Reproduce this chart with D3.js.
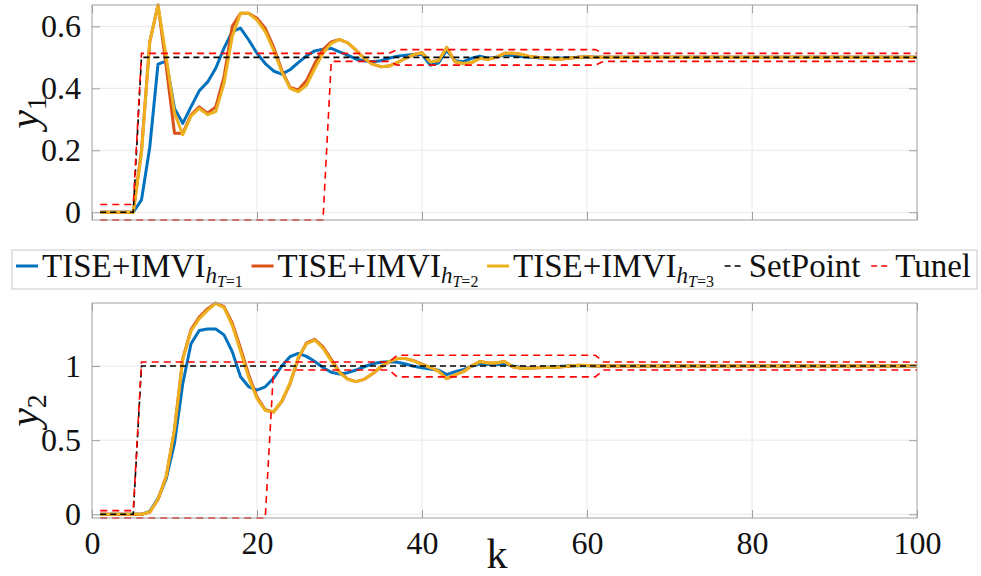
<!DOCTYPE html>
<html>
<head>
<meta charset="utf-8">
<script src="https://cdn.jsdelivr.net/npm/d3@7"></script>
<style>
  body { margin: 0; background: #fff; }
</style>
</head>
<body>
<div id="chart"></div>
<script>
// sample index
const k = d3.range(1, 101);

// y1 responses
const blue1 = [
  0, 0, 0, 0, 0, 0.04, 0.21, 0.478, 0.488, 0.335,
  0.287, 0.34, 0.392, 0.42, 0.465, 0.53, 0.583, 0.594, 0.556, 0.513,
  0.48, 0.456, 0.446, 0.46, 0.483, 0.505, 0.521, 0.526, 0.529, 0.518,
  0.507, 0.494, 0.489, 0.486, 0.489, 0.497, 0.504, 0.507, 0.509, 0.51,
  0.475, 0.482, 0.523, 0.489, 0.486, 0.497, 0.504, 0.497, 0.5, 0.508,
  0.506, 0.503, 0.5, 0.499, 0.497, 0.497, 0.498, 0.499, 0.5, 0.501,
  0.5, 0.5, 0.5, 0.5, 0.5, 0.5, 0.5, 0.5, 0.5, 0.5,
  0.5, 0.5, 0.5, 0.5, 0.5, 0.5, 0.5, 0.5, 0.5, 0.5,
  0.5, 0.5, 0.5, 0.5, 0.5, 0.5, 0.5, 0.5, 0.5, 0.5,
  0.5, 0.5, 0.5, 0.5, 0.5, 0.5, 0.5, 0.5, 0.5, 0.5
];
const orange1 = [
  0, 0, 0, 0, 0, 0.2, 0.55, 0.669, 0.47, 0.255,
  0.255, 0.314, 0.34, 0.32, 0.34, 0.437, 0.6, 0.642, 0.642, 0.626,
  0.594, 0.534, 0.459, 0.403, 0.395, 0.425, 0.48, 0.525, 0.55, 0.558,
  0.547, 0.523, 0.497, 0.478, 0.47, 0.472, 0.483, 0.497, 0.509, 0.515,
  0.486, 0.489, 0.532, 0.486, 0.48, 0.483, 0.497, 0.494, 0.5, 0.513,
  0.513, 0.51, 0.503, 0.5, 0.498, 0.495, 0.495, 0.498, 0.5, 0.502,
  0.5, 0.5, 0.5, 0.5, 0.5, 0.5, 0.5, 0.5, 0.5, 0.5,
  0.5, 0.5, 0.5, 0.5, 0.5, 0.5, 0.5, 0.5, 0.5, 0.5,
  0.5, 0.5, 0.5, 0.5, 0.5, 0.5, 0.5, 0.5, 0.5, 0.5,
  0.5, 0.5, 0.5, 0.5, 0.5, 0.5, 0.5, 0.5, 0.5, 0.5
];
const yellow1 = [
  0, 0, 0, 0, 0, 0.19, 0.55, 0.669, 0.5, 0.32,
  0.25, 0.31, 0.335, 0.315, 0.325, 0.416, 0.567, 0.642, 0.642, 0.62,
  0.583, 0.524, 0.454, 0.4, 0.389, 0.41, 0.464, 0.513, 0.545, 0.558,
  0.547, 0.523, 0.497, 0.478, 0.47, 0.472, 0.483, 0.497, 0.509, 0.515,
  0.486, 0.489, 0.532, 0.486, 0.48, 0.483, 0.497, 0.494, 0.5, 0.513,
  0.513, 0.51, 0.503, 0.5, 0.498, 0.495, 0.495, 0.498, 0.5, 0.502,
  0.5, 0.5, 0.5, 0.5, 0.5, 0.5, 0.5, 0.5, 0.5, 0.5,
  0.5, 0.5, 0.5, 0.5, 0.5, 0.5, 0.5, 0.5, 0.5, 0.5,
  0.5, 0.5, 0.5, 0.5, 0.5, 0.5, 0.5, 0.5, 0.5, 0.5,
  0.5, 0.5, 0.5, 0.5, 0.5, 0.5, 0.5, 0.5, 0.5, 0.5
];

// y2 responses
const blue2 = [
  0, 0, 0, 0, 0, 0, 0.02, 0.106, 0.24, 0.48,
  0.88, 1.15, 1.24, 1.25, 1.25, 1.21, 1.097, 0.928, 0.86, 0.838,
  0.86, 0.917, 1.0, 1.063, 1.085, 1.065, 1.03, 0.99, 0.958, 0.946,
  0.955, 0.973, 0.995, 1.015, 1.025, 1.028, 1.025, 1.014, 0.998, 0.988,
  0.98, 0.972, 0.942, 0.962, 0.975, 0.998, 1.015, 1.01, 1.008, 1.015,
  1.0, 0.99, 0.988, 0.99, 0.992, 0.995, 0.998, 1.0, 1.002, 1.003,
  1, 1, 1, 1, 1, 1, 1, 1, 1, 1,
  1, 1, 1, 1, 1, 1, 1, 1, 1, 1,
  1, 1, 1, 1, 1, 1, 1, 1, 1, 1,
  1, 1, 1, 1, 1, 1, 1, 1, 1, 1
];
const orange2 = [
  0, 0, 0, 0, 0, 0, 0.015, 0.1, 0.257, 0.572,
  1.05, 1.245, 1.33, 1.385, 1.425, 1.4, 1.29, 1.12, 0.94, 0.79,
  0.705, 0.69, 0.76, 0.88, 1.05, 1.155, 1.18, 1.13, 1.045, 0.96,
  0.912, 0.895, 0.91, 0.948, 0.992, 1.028, 1.05, 1.05, 1.036, 1.012,
  0.99, 0.965, 0.915, 0.94, 0.962, 1.0, 1.03, 1.02, 1.02, 1.03,
  0.995, 0.985, 0.985, 0.988, 0.99, 0.99, 0.995, 1.0, 1.005, 1.004,
  1, 1, 1, 1, 1, 1, 1, 1, 1, 1,
  1, 1, 1, 1, 1, 1, 1, 1, 1, 1,
  1, 1, 1, 1, 1, 1, 1, 1, 1, 1,
  1, 1, 1, 1, 1, 1, 1, 1, 1, 1
];
const yellow2 = [
  0, 0, 0, 0, 0, 0, 0.015, 0.1, 0.257, 0.572,
  1.045, 1.236, 1.32, 1.375, 1.423, 1.394, 1.275, 1.1, 0.92, 0.78,
  0.7, 0.69, 0.765, 0.885, 1.06, 1.15, 1.175, 1.12, 1.035, 0.955,
  0.91, 0.895, 0.91, 0.95, 0.995, 1.03, 1.05, 1.05, 1.035, 1.01,
  0.99, 0.965, 0.915, 0.94, 0.962, 1.0, 1.03, 1.02, 1.02, 1.03,
  0.995, 0.985, 0.985, 0.988, 0.99, 0.99, 0.995, 1.0, 1.005, 1.004,
  1, 1, 1, 1, 1, 1, 1, 1, 1, 1,
  1, 1, 1, 1, 1, 1, 1, 1, 1, 1,
  1, 1, 1, 1, 1, 1, 1, 1, 1, 1,
  1, 1, 1, 1, 1, 1, 1, 1, 1, 1
];

// set point and tunnel bounds (corner points of the step lines)
const setPointK = [1, 5, 6, 100];
const setPoint1 = [0, 0, 0.5, 0.5];
const setPoint2 = [0, 0, 1, 1];

const tunnelUpK = [1, 5, 6, 36, 37, 61, 62, 100];
const tunnelUp1 = [0.025, 0.025, 0.513, 0.513, 0.525, 0.525, 0.513, 0.513];
const tunnelUp2 = [0.025, 0.025, 1.027, 1.027, 1.073, 1.073, 1.027, 1.027];
const tunnelLowK1 = [1, 28, 29, 36, 37, 61, 62, 100];
const tunnelLow1 = [-0.025, -0.025, 0.487, 0.487, 0.475, 0.475, 0.487, 0.487];
const tunnelLowK2 = [1, 21, 22, 36, 37, 61, 62, 100];
const tunnelLow2 = [-0.025, -0.025, 0.973, 0.973, 0.927, 0.927, 0.973, 0.973];

// ticks
const xTicks = [0, 20, 40, 60, 80, 100];
const xTickLabels = ['0', '20', '40', '60', '80', '100'];
const yTicks1 = [0, 0.2, 0.4, 0.6];
const yTickLabels1 = ['0', '0.2', '0.4', '0.6'];
const yTicks2 = [0, 0.5, 1];
const yTickLabels2 = ['0', '0.5', '1'];

const seriesNames = ['TISE+IMVI', 'TISE+IMVI', 'TISE+IMVI'];
const seriesSubs = ['T=1', 'T=2', 'T=3'];
const colors = ['#0072BD', '#D95319', '#EDB120'];

const FONT = 'Liberation Serif';
const width = 981, height = 576;
const left = 92, right = 917;

const svg = d3.select('#chart')
  .append('svg')
  .attr('width', width)
  .attr('height', height);

const x = d3.scaleLinear().domain([0, 100]).range([left, right]);

const zip = (ks, vs) => ks.map((kk, i) => [kk, vs[i]]);

const panels = [
  {
    top: 5, bottom: 220, domain: [-0.025, 0.669],
    yTicks: yTicks1, yLabels: yTickLabels1,
    series: [blue1, orange1, yellow1],
    sp: zip(setPointK, setPoint1),
    tUp: zip(tunnelUpK, tunnelUp1), tLow: zip(tunnelLowK1, tunnelLow1),
    sub: '1', xLabels: false
  },
  {
    top: 303, bottom: 518, domain: [-0.025, 1.425],
    yTicks: yTicks2, yLabels: yTickLabels2,
    series: [blue2, orange2, yellow2],
    sp: zip(setPointK, setPoint2),
    tUp: zip(tunnelUpK, tunnelUp2), tLow: zip(tunnelLowK2, tunnelLow2),
    sub: '2', xLabels: true
  }
];

panels.forEach(p => {
  const y = d3.scaleLinear().domain(p.domain).range([p.bottom, p.top]);
  const g = svg.append('g');

  // grid
  g.selectAll('.vgrid')
    .data(xTicks.slice(1, -1))
    .enter().append('line')
    .attr('x1', d => x(d)).attr('x2', d => x(d))
    .attr('y1', p.top).attr('y2', p.bottom)
    .attr('stroke', '#e8e8e8');
  g.selectAll('.hgrid')
    .data(p.yTicks)
    .enter().append('line')
    .attr('x1', left).attr('x2', right)
    .attr('y1', d => y(d)).attr('y2', d => y(d))
    .attr('stroke', '#e8e8e8');

  const line = d3.line().x(d => x(d[0])).y(d => y(d[1]));

  p.series.forEach((s, i) => {
    g.append('path')
      .datum(zip(k, s))
      .attr('fill', 'none')
      .attr('stroke', colors[i])
      .attr('stroke-width', 3)
      .attr('stroke-linejoin', 'round')
      .attr('d', line);
  });

  g.append('path')
    .datum(p.sp)
    .attr('fill', 'none')
    .attr('stroke', '#000')
    .attr('stroke-width', 1.6)
    .attr('stroke-dasharray', '6,4')
    .attr('d', line);

  [p.tUp, p.tLow].forEach(t => {
    g.append('path')
      .datum(t)
      .attr('fill', 'none')
      .attr('stroke', '#ff0000')
      .attr('stroke-width', 1.6)
      .attr('stroke-dasharray', '7,5')
      .attr('d', line);
  });

  // axes with inward ticks on all sides
  const axisColor = '#a0a0a0';
  const ax = [
    g.append('g').attr('transform', `translate(${left},0)`)
      .call(d3.axisLeft(y).tickValues(p.yTicks).tickSize(-8).tickPadding(11)
        .tickFormat((d, i) => p.yLabels[i])),
    g.append('g').attr('transform', `translate(${right},0)`)
      .call(d3.axisRight(y).tickValues(p.yTicks).tickSize(-8).tickFormat('')),
    g.append('g').attr('transform', `translate(0,${p.top})`)
      .call(d3.axisTop(x).tickValues(xTicks).tickSize(-8).tickFormat('')),
    g.append('g').attr('transform', `translate(0,${p.bottom})`)
      .call(d3.axisBottom(x).tickValues(xTicks).tickSize(-8).tickPadding(13)
        .tickFormat((d, i) => p.xLabels ? xTickLabels[i] : ''))
  ];
  ax.forEach(a => {
    a.attr('font-family', FONT).attr('font-size', 32);
    a.select('.domain').remove();
    a.selectAll('line').attr('stroke', axisColor);
    a.selectAll('text')
      .attr('font-family', FONT)
      .attr('font-size', 32)
      .attr('fill', '#111');
  });

  g.append('rect')
    .attr('x', left).attr('y', p.top)
    .attr('width', right - left).attr('height', p.bottom - p.top)
    .attr('fill', 'none')
    .attr('stroke', axisColor);

  // y label
  const cy = (p.top + p.bottom) / 2;
  const yl = g.append('text')
    .attr('transform', `translate(38,${cy}) rotate(-90)`)
    .attr('text-anchor', 'middle')
    .attr('font-family', FONT)
    .attr('font-size', 42)
    .attr('fill', '#111');
  yl.append('tspan').attr('font-style', 'italic').text('y');
  yl.append('tspan').attr('dy', 8).attr('font-size', 28).text(p.sub);
});

// x label
svg.append('text')
  .attr('x', 497).attr('y', 568)
  .attr('text-anchor', 'middle')
  .attr('font-family', FONT)
  .attr('font-size', 42)
  .attr('fill', '#111')
  .text('k');

// legend
const legBox = { x: 12, y: 250, w: 965, h: 39 };
const legend = svg.append('g');
legend.append('rect')
  .attr('x', legBox.x).attr('y', legBox.y)
  .attr('width', legBox.w).attr('height', legBox.h)
  .attr('fill', '#fff')
  .attr('stroke', '#c8c8c8');

const legFont = 33;
const base = legBox.y + 27;
const sampleW = 24;
const items = [];

seriesNames.forEach((name, i) => {
  items.push({ kind: 'solid', color: colors[i], name, sub: seriesSubs[i] });
});
items.push({ kind: 'dash', color: '#000', name: 'SetPoint' });
items.push({ kind: 'dash', color: '#ff0000', name: 'Tunel' });

items.forEach(it => {
  const g = legend.append('g');
  const t = g.append('text')
    .attr('x', sampleW + 4).attr('y', base)
    .attr('font-family', FONT)
    .attr('font-size', legFont)
    .attr('fill', '#111');
  t.append('tspan').text(it.name);
  if (it.sub) {
    t.append('tspan').attr('dy', 6).attr('font-style', 'italic')
      .attr('font-size', 23).text('h');
    const [v, rest] = it.sub.split('=');
    t.append('tspan').attr('dy', 4).attr('font-style', 'italic')
      .attr('font-size', 16).text(v);
    t.append('tspan').attr('font-size', 16).text('=' + rest);
  }
  if (it.kind === 'solid') {
    g.append('line')
      .attr('x1', 2).attr('x2', sampleW)
      .attr('y1', base - 11).attr('y2', base - 11)
      .attr('stroke', it.color).attr('stroke-width', 3);
  } else {
    g.append('line')
      .attr('x1', 4).attr('x2', sampleW)
      .attr('y1', base - 11).attr('y2', base - 11)
      .attr('stroke', it.color).attr('stroke-width', 1.6)
      .attr('stroke-dasharray', '6,4');
  }
  it.g = g;
  it.w = sampleW + 4 + t.node().getComputedTextLength();
});

const totalW = d3.sum(items, d => d.w);
const gap = (legBox.w - 8 - totalW) / (items.length - 1);
let cx = legBox.x + 2;
items.forEach(it => {
  it.g.attr('transform', `translate(${cx},0)`);
  cx += it.w + gap;
});
</script>
</body>
</html>
